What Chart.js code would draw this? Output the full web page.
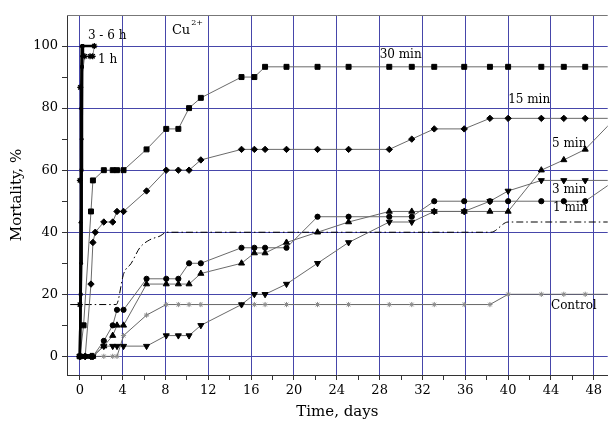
<!DOCTYPE html>
<html>
<head>
<meta charset="utf-8">
<script src="https://cdn.jsdelivr.net/npm/chart.js@4.4.1/dist/chart.umd.min.js"></script>
<style>
  html, body { margin: 0; padding: 0; background: #fff; }
</style>
</head>
<body>
<canvas id="chart1" width="613" height="423"></canvas>
<script>
// sampling times (days) shared by the minute series and the control
const days = [0, 0.35, 0.5, 1.04, 1.22, 1.44, 2.24, 3.07, 3.47, 4.08, 6.23, 8.07, 9.2, 10.2, 11.3,
  15.1, 16.3, 17.3, 19.3, 22.2, 25.1, 28.9, 31, 33.1, 35.9, 38.3, 40, 43.1, 45.2, 47.2, 50];

const min30 = [0, 10, null, 46.7, 56.7, null, 60, 60, 60, 60, 66.7, 73.3, 73.3, 80, 83.3,
  90, 90, 93.3, 93.3, 93.3, 93.3, 93.3, 93.3, 93.3, 93.3, 93.3, 93.3, 93.3, 93.3, 93.3, 93.3];
const min15 = [0, null, 0, 23.3, 36.7, 40, 43.3, 43.3, 46.7, 46.7, 53.3, 60, 60, 60, 63.3,
  66.7, 66.7, 66.7, 66.7, 66.7, 66.7, 66.7, 70, 73.3, 73.3, 76.7, 76.7, 76.7, 76.7, 76.7, 76.7];
const min5 = [0, null, 0, 0, 0, null, 3.3, 6.7, 10, 10, 23.3, 23.3, 23.3, 23.3, 26.7,
  30, 33.3, 33.3, 36.7, 40, 43.3, 46.7, 46.7, 46.7, 46.7, 46.7, 46.7, 60, 63.3, 66.7, 76.7];
const min3 = [0, null, 0, 0, 0, null, 3.3, 3.3, 3.3, 3.3, 3.3, 6.7, 6.7, 6.7, 10,
  16.7, 20, 20, 23.3, 30, 36.7, 43.3, 43.3, 46.7, 46.7, 50, 53.3, 56.7, 56.7, 56.7, 56.7];
const min1 = [0, null, 0, 0, 0, null, 5, 10, 15, 15, 25, 25, 25, 30, 30,
  35, 35, 35, 35, 45, 45, 45, 45, 50, 50, 50, 50, 50, 50, 50, 56.7];
const control = [0, null, 0, 0, 0, null, 0, 0, 0, 6.7, 13.3, 16.7, 16.7, 16.7, 16.7,
  16.7, 16.7, 16.7, 16.7, 16.7, 16.7, 16.7, 16.7, 16.7, 16.7, 16.7, 20, 20, 20, 20, 20];

// dash-dot curve
const fitDays = [-0.9, 3.4, 4.1, 4.8, 5.6, 6.5, 7.5, 8.1, 38.4, 40, 50];
const fitVals = [16.7, 16.7, 26.7, 30, 35, 37.5, 38.8, 40, 40, 43.3, 43.3];

// hour exposures
const h1Days = [0, 0, 0, 0.04, 0.46, 0.95, 1.2, 1.35];
const h1Vals = [0, 16.7, 56.7, 86.7, 96.7, 96.7, 96.7, 100];
const h3Days = [0, 0.125, 0.17, 0.21, 0.29, 1.35];
const h3Vals = [0, 30, 70, 96.7, 100, 100];
const h4Days = [0, 0.08, 0.15, 0.2, 0.25];
const h4Vals = [0, 20, 60, 93.3, 100];
const h6Days = [0, 0.06, 0.1, 0.15, 0.21];
const h6Vals = [0, 43.3, 80, 100, 100];

// axis ticks (majors labelled)
const xTicks = [0, 2, 4, 6, 8, 10, 12, 14, 16, 18, 20, 22, 24, 26, 28, 30, 32, 34, 36, 38, 40, 42, 44, 46, 48];
const yTicks = [0, 10, 20, 30, 40, 50, 60, 70, 80, 90, 100];

// text notes on the plot
const noteTexts = ['30 min', '15 min', '5 min', '3 min', '1 min', 'Control', '3 - 6 h', '1 h'];
const noteDays = [28.0, 40.0, 44.1, 44.1, 44.2, 44.0, 0.75, 1.7];
const noteVals = [97.3, 82.8, 68.4, 53.6, 47.8, 16.4, 103.3, 95.5];

const gridBlue = 'rgb(70,70,170)';
const lineGray = '#6a6a6a';
const serif = 'DejaVu Serif';

function pts(xs, ys) {
  return xs.map((d, i) => ({ x: d, y: ys[i] })).filter(p => p.y !== null);
}

function series(label, xs, ys, pointStyle, radius, extra) {
  return Object.assign({
    label,
    data: pts(xs, ys),
    borderColor: lineGray,
    borderWidth: 1,
    pointStyle,
    pointRadius: radius,
    pointBackgroundColor: '#000',
    pointBorderColor: '#000',
    pointBorderWidth: 1,
    tension: 0,
  }, extra || {});
}

const notesPlugin = {
  id: 'notes',
  afterDatasetsDraw(chart) {
    const { ctx, chartArea, scales: { x, y } } = chart;
    ctx.save();
    // top frame line
    ctx.strokeStyle = '#777';
    ctx.lineWidth = 1;
    ctx.beginPath();
    ctx.moveTo(chartArea.left, chartArea.top + 0.5);
    ctx.lineTo(chartArea.right, chartArea.top + 0.5);
    ctx.stroke();

    ctx.fillStyle = '#000';
    ctx.textBaseline = 'middle';
    ctx.textAlign = 'left';
    ctx.font = '12px "' + serif + '"';
    noteTexts.forEach((t, i) => {
      ctx.fillText(t, x.getPixelForValue(noteDays[i]), y.getPixelForValue(noteVals[i]));
    });

    // Cu2+
    const cx = x.getPixelForValue(8.6), cy = y.getPixelForValue(105);
    ctx.font = '13px "' + serif + '"';
    ctx.fillText('Cu', cx, cy);
    const w = ctx.measureText('Cu').width;
    ctx.font = '8px "' + serif + '"';
    ctx.fillText('2+', cx + w + 1, cy - 8);
    ctx.restore();
  }
};

new Chart(document.getElementById('chart1'), {
  type: 'line',
  data: {
    datasets: [
      series('3 h', h3Days, h3Vals, 'circle', 1.5, { borderColor: '#000', borderWidth: 2.5 }),
      series('4 h', h4Days, h4Vals, 'rect', 2, { borderColor: '#000', borderWidth: 2.5 }),
      series('6 h', h6Days, h6Vals, 'triangle', 2, { borderColor: '#000', borderWidth: 2 }),
      series('1 h', h1Days, h1Vals, 'star', 3, { borderColor: '#888', pointBorderWidth: 1.3 }),
      series('30 min', days, min30, 'rect', 3.5),
      series('15 min', days, min15, 'rectRot', 3.2),
      series('5 min', days, min5, 'triangle', 3.5),
      series('3 min', days, min3, 'triangle', 3.5, { pointRotation: 180 }),
      series('1 min', days, min1, 'circle', 2.6),
      series('Control', days, control, 'star', 2.6, {
        borderColor: '#666', pointBorderColor: '#888', pointBackgroundColor: '#888'
      }),
      {
        label: 'fit',
        data: pts(fitDays, fitVals),
        borderColor: '#000',
        borderWidth: 1,
        borderDash: [7, 3, 1.5, 3],
        pointRadius: 0,
        cubicInterpolationMode: 'monotone',
      },
    ],
  },
  options: {
    responsive: false,
    animation: false,
    layout: { padding: { top: 15, right: 0, left: 0, bottom: 0 } },
    plugins: {
      legend: { display: false },
      tooltip: { enabled: false },
    },
    scales: {
      x: {
        type: 'linear',
        min: -1.2,
        max: 49.3,
        afterBuildTicks: s => { s.ticks = xTicks.map(v => ({ value: v })); },
        afterFit: s => { s.height = 48; },
        ticks: {
          autoSkip: false,
          maxRotation: 0,
          padding: 3,
          color: '#000',
          font: { family: serif, size: 13 },
          callback: v => (v % 4 === 0 ? String(v) : ''),
        },
        grid: {
          color: c => (c.tick && c.tick.value % 4 === 0 ? gridBlue : 'rgba(0,0,0,0)'),
          tickColor: '#333',
          tickLength: 5,
        },
        border: { color: '#333', width: 1 },
        title: {
          display: true,
          text: 'Time, days',
          color: '#000',
          font: { family: serif, size: 15 },
          padding: { top: 0, bottom: 2 },
        },
      },
      y: {
        type: 'linear',
        min: -6,
        max: 110,
        afterBuildTicks: s => { s.ticks = yTicks.map(v => ({ value: v })); },
        afterFit: s => { s.width = 67; },
        ticks: {
          autoSkip: false,
          padding: 4,
          color: '#000',
          font: { family: serif, size: 13 },
          callback: v => (v % 20 === 0 ? String(v) : ''),
        },
        grid: {
          color: c => (c.tick && c.tick.value % 20 === 0 ? gridBlue : 'rgba(0,0,0,0)'),
          tickColor: '#333',
          tickLength: 5,
        },
        border: { color: '#333', width: 1 },
        title: {
          display: true,
          text: 'Mortality, %',
          color: '#000',
          font: { family: serif, size: 15 },
          padding: { top: 8, bottom: 0 },
        },
      },
    },
  },
  plugins: [notesPlugin],
});
</script>
</body>
</html>
